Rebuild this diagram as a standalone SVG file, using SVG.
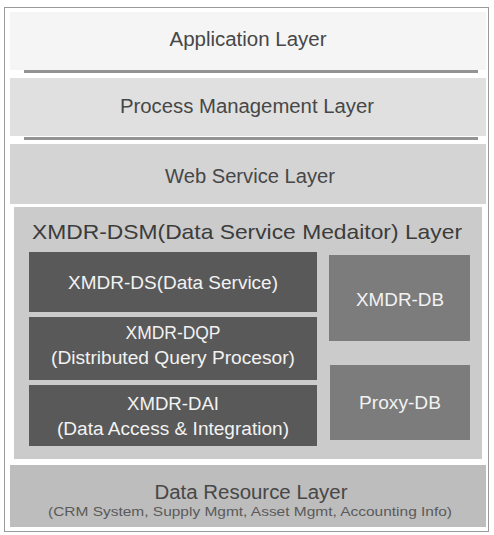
<svg xmlns="http://www.w3.org/2000/svg" width="494" height="535" viewBox="0 0 494 535">
  <style>
    text { font-family: "Liberation Sans", Arial, sans-serif; text-anchor: middle; }
    .layer-label { font-size: 19.5px; fill: #474747; }
    .box-label { font-size: 18px; fill: #f2f2f2; }
    .title { font-size: 21px; fill: #3c3c3c; }
    .sub { font-size: 13px; fill: #5a5a5a; }
    .dark { fill: #595959; }
    .mid { fill: #7c7c7c; }
    .shade { fill: #939393; }
  </style>

  <!-- outer frame -->
  <rect x="4.5" y="7.5" width="484" height="524" fill="#ffffff" stroke="#9a9a9a" stroke-width="1"/>

  <g id="application-layer">
    <rect x="10" y="12" width="476" height="58" fill="#f5f5f5"/>
    <rect x="24" y="70" width="454" height="3" class="shade"/>
    <text x="248" y="46" class="layer-label" textLength="157" lengthAdjust="spacingAndGlyphs">Application Layer</text>
  </g>

  <g id="process-management-layer">
    <rect x="10" y="78" width="476" height="58" fill="#e0e0e0"/>
    <rect x="24" y="137" width="454" height="3" class="shade"/>
    <text x="247" y="113" class="layer-label" textLength="254" lengthAdjust="spacingAndGlyphs">Process Management Layer</text>
  </g>

  <g id="web-service-layer">
    <rect x="10" y="144" width="476" height="60" fill="#d4d4d4"/>
    <text x="250" y="183" class="layer-label" textLength="170" lengthAdjust="spacingAndGlyphs">Web Service Layer</text>
  </g>

  <g id="xmdr-dsm-layer">
    <rect x="14" y="207" width="468" height="252" fill="#cbcbcb"/>
    <text x="247" y="239" class="title" textLength="430" lengthAdjust="spacingAndGlyphs">XMDR-DSM(Data Service Medaitor) Layer</text>
  </g>

  <g id="xmdr-ds">
    <rect x="29" y="252" width="288" height="60" class="dark"/>
    <text x="173" y="289" class="box-label" textLength="210" lengthAdjust="spacingAndGlyphs">XMDR-DS(Data Service)</text>
  </g>

  <g id="xmdr-dqp">
    <rect x="29" y="317" width="288" height="63" class="dark"/>
    <text x="173" y="339" class="box-label" textLength="95" lengthAdjust="spacingAndGlyphs">XMDR-DQP</text>
    <text x="173" y="364" class="box-label" textLength="244" lengthAdjust="spacingAndGlyphs">(Distributed Query Procesor)</text>
  </g>

  <g id="xmdr-dai">
    <rect x="29" y="385" width="288" height="61" class="dark"/>
    <text x="173" y="410" class="box-label" textLength="92" lengthAdjust="spacingAndGlyphs">XMDR-DAI</text>
    <text x="173" y="435" class="box-label" textLength="232" lengthAdjust="spacingAndGlyphs">(Data Access &amp; Integration)</text>
  </g>

  <g id="xmdr-db">
    <rect x="329" y="255" width="141" height="86" class="mid"/>
    <text x="400" y="306" class="box-label" textLength="88" lengthAdjust="spacingAndGlyphs">XMDR-DB</text>
  </g>

  <g id="proxy-db">
    <rect x="330" y="365" width="140" height="75" class="mid"/>
    <text x="400" y="409" class="box-label" textLength="82" lengthAdjust="spacingAndGlyphs">Proxy-DB</text>
  </g>

  <g id="data-resource-layer">
    <rect x="10" y="465" width="476" height="62" fill="#bdbdbd"/>
    <text x="251" y="499" class="layer-label" fill="#555555" textLength="193" lengthAdjust="spacingAndGlyphs">Data Resource Layer</text>
    <text x="250" y="516" class="sub" textLength="404" lengthAdjust="spacingAndGlyphs">(CRM System, Supply Mgmt, Asset Mgmt, Accounting Info)</text>
  </g>

  <!-- no connectors in this layered stack -->
  <g id="connectors"/>
</svg>
